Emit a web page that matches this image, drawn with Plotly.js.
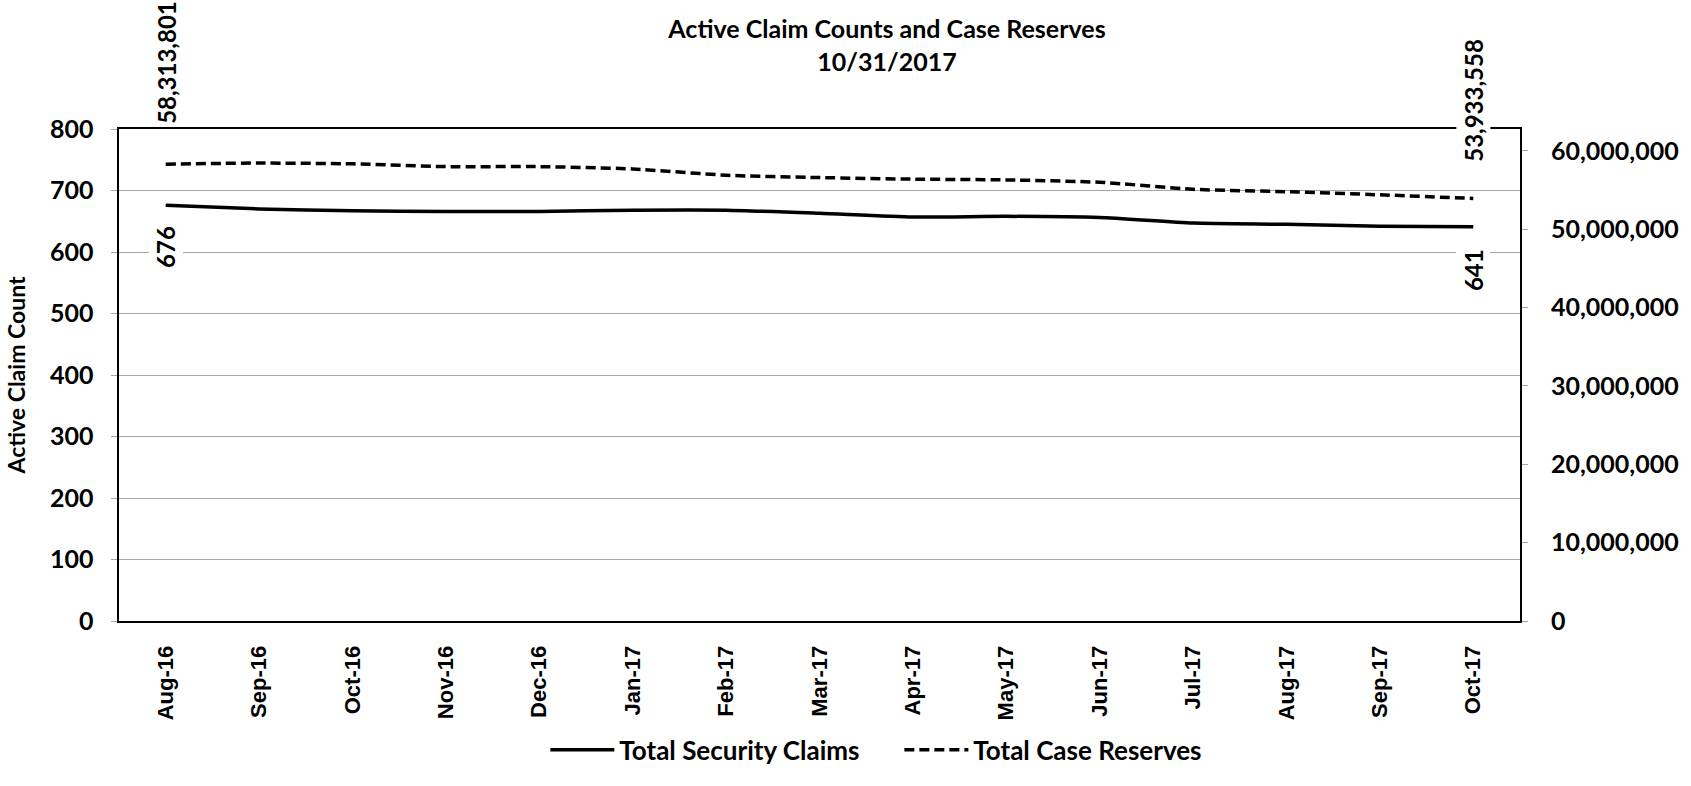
<!DOCTYPE html>
<html>
<head>
<meta charset="utf-8">
<script src="https://cdn.plot.ly/plotly-3.0.1.min.js"></script>
<style>html,body{margin:0;padding:0;background:#fff;}#chart{width:1691px;height:786px;}</style>
</head>
<body>
<div id="chart"></div>
<script>
const months = ["Aug-16","Sep-16","Oct-16","Nov-16","Dec-16","Jan-17","Feb-17","Mar-17","Apr-17","May-17","Jun-17","Jul-17","Aug-17","Sep-17","Oct-17"];
const claims = [676, 670, 667, 666, 666, 668, 668, 663, 657, 658, 656, 647, 645, 642, 641];
const reserves = [58313801, 58450000, 58350000, 58000000, 58000000, 57700000, 56900000, 56600000, 56400000, 56300000, 56000000, 55100000, 54800000, 54400000, 53933558];
const leftTicks = [0, 100, 200, 300, 400, 500, 600, 700, 800];
const rightTicks = [0, 10000000, 20000000, 30000000, 40000000, 50000000, 60000000];

const fmt = v => v.toLocaleString('en-US');
const last = months.length - 1;

const traces = [
  {x: months, y: claims, name: 'Total Security Claims', type: 'scatter', mode: 'lines',
   line: {color: '#000', width: 3.5, shape: 'spline', smoothing: 0.6}, yaxis: 'y', hoverinfo: 'skip'},
  {x: months, y: reserves, name: 'Total Case Reserves', type: 'scatter', mode: 'lines',
   line: {color: '#000', width: 3.5, dash: '10px,5px', shape: 'spline', smoothing: 0.6}, yaxis: 'y2', hoverinfo: 'skip'}
];

const labelFont = {family: 'Lato, sans-serif', size: 24, color: '#000', weight: 'bold'};
const annotations = [
  {x: months[0], y: reserves[0], yref: 'y2', text: fmt(reserves[0]), yshift: 102},
  {x: months[last], y: reserves[last], yref: 'y2', text: fmt(reserves[last]), yshift: 98},
  {x: months[0], y: claims[0], yref: 'y', text: fmt(claims[0]), yshift: -42},
  {x: months[last], y: claims[last], yref: 'y', text: fmt(claims[last]), yshift: -43}
].map(a => Object.assign({xref: 'x', showarrow: false, textangle: -90, bgcolor: '#fff',
  font: labelFont, borderpad: 2}, a));

const layout = {
  width: 1691, height: 786,
  paper_bgcolor: '#fff', plot_bgcolor: '#fff',
  margin: {l: 119, r: 171, t: 129, b: 150},
  title: {text: 'Active Claim Counts and Case Reserves<br>10/31/2017',
    font: {family: 'Lato, sans-serif', size: 25, color: '#000', weight: 'bold'},
    xref: 'container', x: 887/1691, xanchor: 'center', yref: 'container', y: 1 - 38/786, yanchor: 'top'},
  showlegend: true,
  legend: {orientation: 'h', xref: 'paper', x: 0.557, xanchor: 'center', yref: 'paper', y: -0.262, yanchor: 'middle',
    font: {family: 'Lato, sans-serif', size: 26, color: '#000', weight: 'bold'}, itemwidth: 64, tracegroupgap: 0,
    entrywidth: 275, bgcolor: 'rgba(0,0,0,0)'},
  xaxis: {type: 'category', range: [-0.5, months.length - 0.5], tickangle: -90, showgrid: false, zeroline: false,
    showline: true, linecolor: '#000', linewidth: 2, mirror: true, ticks: '',
    ticklabelstandoff: 14,
    tickfont: {family: 'Liberation Sans, Arial, sans-serif', size: 22, color: '#000', weight: 'bold'}},
  yaxis: {range: [0, 800], tickvals: leftTicks, ticktext: leftTicks.map(fmt),
    showgrid: true, gridcolor: '#a6a6a6', gridwidth: 1, zeroline: false,
    showline: true, linecolor: '#000', linewidth: 2.5, ticks: 'outside', ticklen: 6, tickcolor: '#a6a6a6',
    ticklabelstandoff: 12,
    tickfont: {family: 'Lato, sans-serif', size: 25, color: '#000', weight: 'bold'},
    title: {text: 'Active Claim Count', standoff: 18,
      font: {family: 'Lato, sans-serif', size: 23, color: '#000', weight: 'bold'}}},
  yaxis2: {overlaying: 'y', side: 'right', range: [0, 62800000], tickvals: rightTicks, ticktext: rightTicks.map(fmt),
    showgrid: false, zeroline: false, showline: true, linecolor: '#000', linewidth: 2,
    ticks: 'outside', ticklen: 6, tickcolor: '#a6a6a6', ticklabelstandoff: 18,
    tickfont: {family: 'Lato, sans-serif', size: 25, color: '#000', weight: 'bold'}},
  annotations: annotations
};

Plotly.newPlot('chart', traces, layout, {staticPlot: true, displayModeBar: false});
</script>
</body>
</html>
